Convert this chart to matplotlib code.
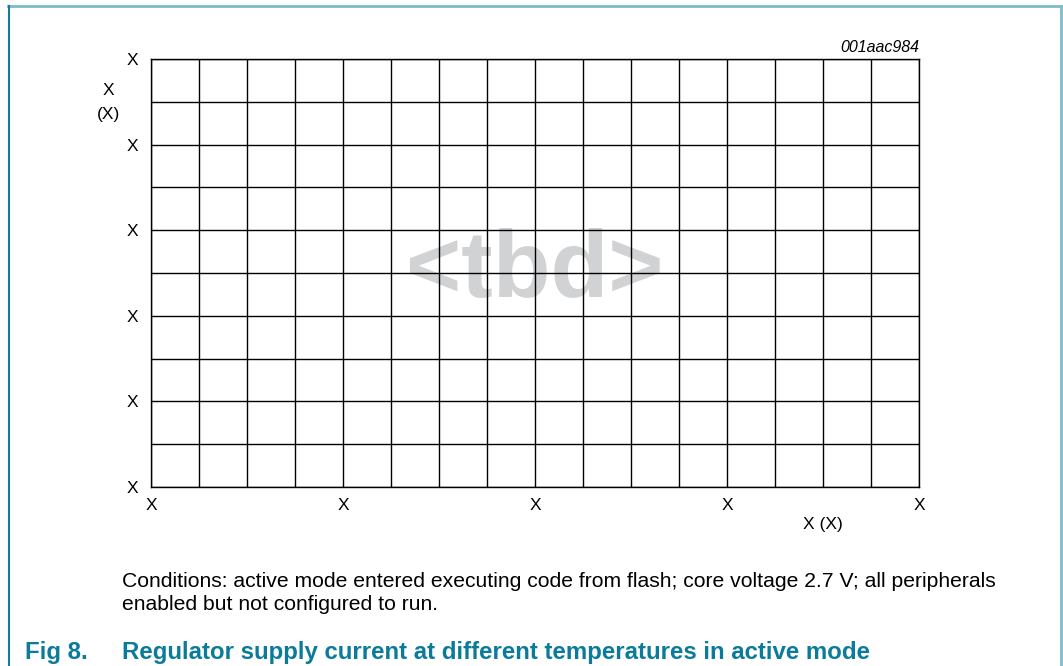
import matplotlib
matplotlib.use("Agg")
from matplotlib import pyplot as plt
from matplotlib.lines import Line2D

plt.rcParams['font.family'] = ['Liberation Sans', 'DejaVu Sans']

# placeholder chart: 16 x 10 grid, all labels are "X"
n_cols = 16
n_rows = 10
x_ticks = [0, 4, 8, 12, 16]
x_tick_labels = ["X", "X", "X", "X", "X"]
y_ticks = [0, 2, 4, 6, 8, 10]
y_tick_labels = ["X", "X", "X", "X", "X", "X"]
x_label = "X (X)"
y_label = "X\n(X)"
code = "001aac984"
note = ("Conditions: active mode entered executing code from flash; core voltage 2.7 V; all peripherals\n"
        "enabled but not configured to run.")
fig_no = "Fig 8."
fig_title = "Regulator supply current at different temperatures in active mode"

fig = plt.figure(figsize=(10.63, 6.66), dpi=100)
ax = fig.add_axes([151/1063, 1-487/666, 768/1063, 428/666])
ax.set_xlim(0, n_cols)
ax.set_ylim(0, n_rows)
ax.set_xticks(range(n_cols + 1), minor=True)
ax.set_yticks(range(n_rows + 1), minor=True)
ax.set_xticks(x_ticks)
ax.set_xticklabels(x_tick_labels)
ax.set_yticks(y_ticks)
ax.set_yticklabels(y_tick_labels)
ax.tick_params(which='both', length=0, labelsize=12.5, colors='black')
ax.tick_params(axis='x', pad=8)
ax.tick_params(axis='y', pad=9)
ax.grid(which='both', color='black', linewidth=1)
ax.set_axisbelow(False)
for s in ax.spines.values():
    s.set_linewidth(1)

ax.text(0.5, 0.5, "<tbd>", transform=ax.transAxes, ha='center', va='center',
        fontsize=68, fontweight='bold', color='#d1d2d4', zorder=0.5)

ax.text(-0.055, 0.898, y_label, transform=ax.transAxes, ha='center', va='center',
        fontsize=12.5, linespacing=1.7)
fig.text(823/1063, 1-525/666, x_label, ha='center', va='center', fontsize=12.5)
fig.text(919/1063, 1-48/666, code, ha='right', va='center', fontsize=11.5, style='italic')

fig.text(122/1063, 1-593/666, note, ha='left', va='center', fontsize=15.25, linespacing=1.3)
fig.text(25/1063, 1-652/666, fig_no, ha='left', va='center', fontsize=17.3,
         fontweight='bold', color='#0b7b9a')
fig.text(122/1063, 1-652/666, fig_title, ha='left', va='center', fontsize=17.3,
         fontweight='bold', color='#0b7b9a')

# frame around the figure
fig.add_artist(Line2D([8/1063, 1061/1063], [1-5.5/666, 1-5.5/666], color='#7cbccb', lw=2))
fig.add_artist(Line2D([1061/1063, 1061/1063], [1-5.5/666, 0], color='#7cbccb', lw=2))
fig.add_artist(Line2D([8.5/1063, 8.5/1063], [1-5.5/666, 0], color='#137c99', lw=1.5))

fig.savefig("out.png", dpi=100)
plt.close()
